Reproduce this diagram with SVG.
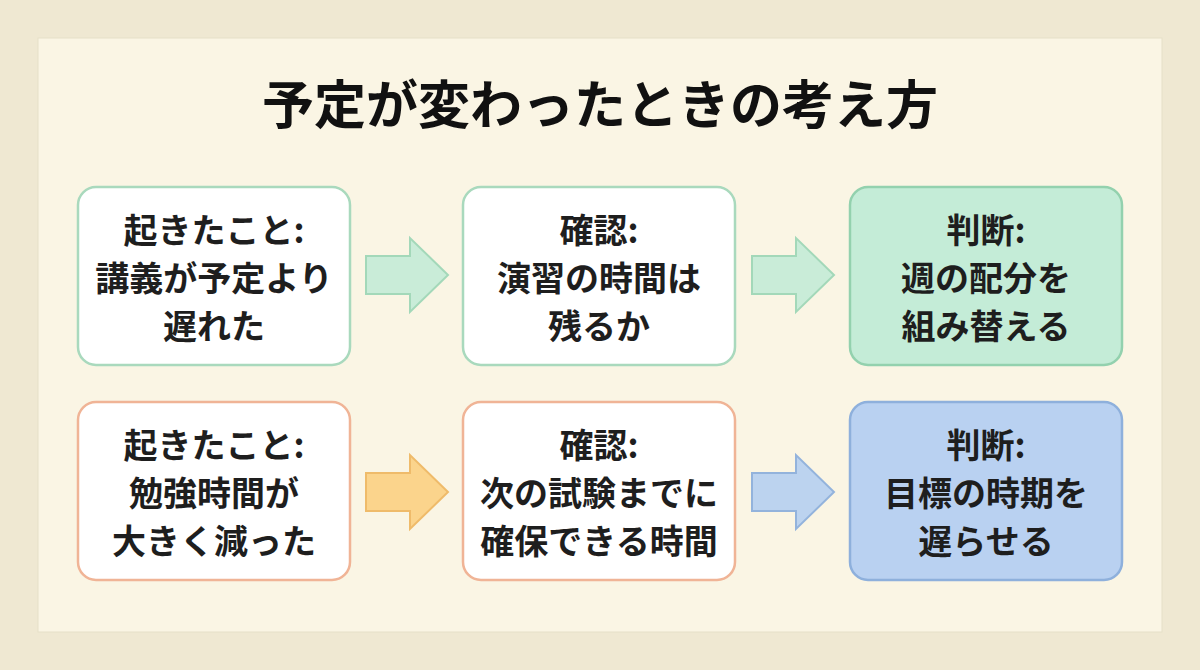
<svg xmlns="http://www.w3.org/2000/svg" width="1200" height="670" viewBox="0 0 1200 670">
<style>
text{font-family:"Noto Sans CJK JP","Noto Sans",sans-serif;font-weight:700;fill:#1e1e1e;text-anchor:middle}
.t{font-size:34px}
.box{stroke-width:2.5}
</style>
<rect width="1200" height="670" fill="#efe8d2"/>
<rect x="38" y="38" width="1124" height="594" fill="#faf5e4" stroke="#e6dfc8"/>
<text x="600" y="124" font-size="52" style="fill:#111">予定が変わったときの考え方</text>
<g id="connectors">
<path d="M366,256 h44 v-18 l38,37 l-38,37 v-18 h-44z" fill="#c9ecd8" stroke="#a3d8b9" stroke-width="2"/>
<path d="M752,256 h44 v-18 l38,37 l-38,37 v-18 h-44z" fill="#c9ecd8" stroke="#a3d8b9" stroke-width="2"/>
<path d="M366,473 h44 v-18 l38,37 l-38,37 v-18 h-44z" fill="#fbd48c" stroke="#efbb6a" stroke-width="2"/>
<path d="M752,473 h44 v-18 l38,37 l-38,37 v-18 h-44z" fill="#bcd3ef" stroke="#93b3dc" stroke-width="2"/>
</g>
<g id="n1"><rect class="box" x="78" y="187" width="272" height="178" rx="18" fill="#fff" stroke="#a9d9bd"/>
<text class="t" x="214" y="243">起きたこと:</text><text class="t" x="214" y="291">講義が予定より</text><text class="t" x="214" y="339">遅れた</text></g>
<g id="n2"><rect class="box" x="463" y="187" width="272" height="178" rx="18" fill="#fff" stroke="#a9d9bd"/>
<text class="t" x="599" y="243">確認:</text><text class="t" x="599" y="291">演習の時間は</text><text class="t" x="599" y="339">残るか</text></g>
<g id="n3"><rect class="box" x="850" y="187" width="272" height="178" rx="18" fill="#c4ecd7" stroke="#93d1ae"/>
<text class="t" x="986" y="243">判断:</text><text class="t" x="986" y="291">週の配分を</text><text class="t" x="986" y="339">組み替える</text></g>
<g id="n4"><rect class="box" x="78" y="402" width="272" height="178" rx="18" fill="#fff" stroke="#f0b496"/>
<text class="t" x="214" y="458">起きたこと:</text><text class="t" x="214" y="506">勉強時間が</text><text class="t" x="214" y="554">大きく減った</text></g>
<g id="n5"><rect class="box" x="463" y="402" width="272" height="178" rx="18" fill="#fff" stroke="#f0b496"/>
<text class="t" x="599" y="458">確認:</text><text class="t" x="599" y="506">次の試験までに</text><text class="t" x="599" y="554">確保できる時間</text></g>
<g id="n6"><rect class="box" x="850" y="402" width="272" height="178" rx="18" fill="#b9d1f1" stroke="#8eb0dc"/>
<text class="t" x="986" y="458">判断:</text><text class="t" x="986" y="506">目標の時期を</text><text class="t" x="986" y="554">遅らせる</text></g>
</svg>
